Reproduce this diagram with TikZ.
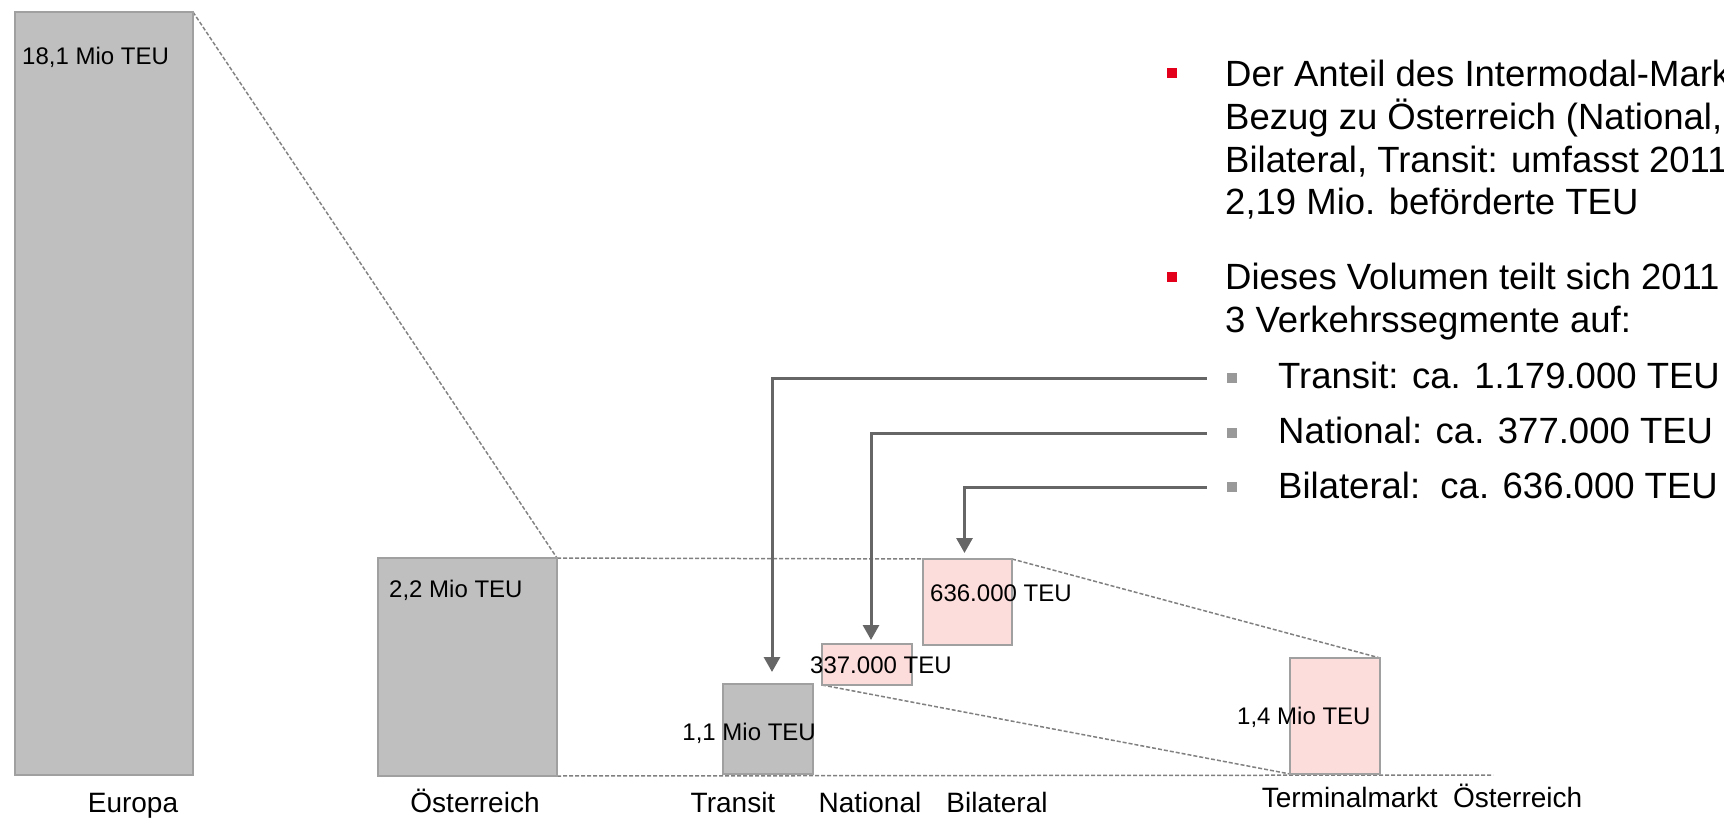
\documentclass[tikz,border=0pt]{standalone}
\usepackage{fontspec}
\setmainfont{Liberation Sans}
\usetikzlibrary{arrows.meta,backgrounds,positioning}
\definecolor{bargrey}{HTML}{BFBFBF}
\definecolor{barpink}{HTML}{FDDCDC}
\definecolor{barframe}{HTML}{A0A0A0}
\definecolor{guidegrey}{HTML}{808080}
\definecolor{pointergrey}{HTML}{666666}
\definecolor{bulletred}{HTML}{E2001A}
\definecolor{bulletgrey}{HTML}{999999}

\begin{document}
\begin{tikzpicture}[x=1pt,y=-1pt,
    bar/.style={draw=barframe,line width=2pt,outer sep=0pt,inner sep=0pt,anchor=north west},
    greybar/.style={bar,fill=bargrey},
    pinkbar/.style={bar,fill=barpink},
    barvalue/.style={font=\fontsize{24}{28}\selectfont,inner sep=0pt,anchor=base west},
    category/.style={font=\fontsize{28}{32}\selectfont,inner sep=0pt,anchor=base},
    bodytext/.style={font=\fontsize{36.5}{42}\selectfont,inner sep=0pt,anchor=base west},
    mainbullet/.style={fill=bulletred,minimum size=10pt,inner sep=0pt},
    subbullet/.style={fill=bulletgrey,minimum size=10pt,inner sep=0pt},
    guide/.style={draw=guidegrey,line width=1.5pt,dash pattern=on 4pt off 2pt},
    pointer/.style={-{Triangle[length=15pt,width=16pt]},line width=3pt,draw=pointergrey}
  ]
    \useasboundingbox (0,0) rectangle (1724,818);
    \clip (0,0) rectangle (1724,818);

    % bars
    \node[greybar,minimum width=178pt,minimum height=763pt] (europa) at (15,12) {};
    \node[greybar,minimum width=179pt,minimum height=218pt] (oesterreich) at (378,558) {};
    \node[greybar,minimum width=90pt,minimum height=90pt] (transit) at (723,684) {};
    \node[pinkbar,minimum width=90pt,minimum height=41pt] (national) at (822,644) {};
    \node[pinkbar,minimum width=89pt,minimum height=86pt] (bilateral) at (923,559) {};
    \node[pinkbar,minimum width=90pt,minimum height=116pt] (terminal) at (1290,658) {};

    % values
    \node[barvalue] (europaval) at (22,65) {18,1 Mio TEU};
    \node[barvalue] (oesterreichval) at (389,597) {2,2 Mio TEU};
    \node[barvalue,anchor=base east] (transitval) at (816,740) {1,1 Mio TEU};
    \node[barvalue] (nationalval) at (810,673) {337.000 TEU};
    \node[barvalue] (bilateralval) at (930,601) {636.000 TEU};
    \node[barvalue] (terminalval) at (1237,724) {1,4 Mio TEU};

    % categories
    \node[category] (europalbl) at (133,812) {Europa};
    \node[category] (oesterreichlbl) at (475,812) {Österreich};
    \node[category] (transitlbl) at (733,812) {Transit};
    \node[category] (nationallbl) at (870,812) {National};
    \node[category] (bilaterallbl) at (997,812) {Bilateral};
    \node[category] (terminallbl) at (1422,807) {Terminalmarkt\ \ Österreich};

    % text on the right
    \node[mainbullet] (bulletone) at (1172,73) {};
    \node[bodytext] (lineone) at (1225,87) {Der Anteil des Intermodal-Markt};
    \node[bodytext] (linetwo) at (1225,130) {Bezug zu Österreich (National,};
    \node[bodytext] (linethree) at (1225,173) {Bilateral, Transit: umfasst 2011};
    \node[bodytext] (linefour) at (1225,215) {2,19 Mio. beförderte TEU};
    \node[mainbullet] (bullettwo) at (1172,277) {};
    \node[bodytext] (linefive) at (1225,290) {Dieses Volumen teilt sich 2011};
    \node[bodytext] (linesix) at (1225,332) {3 Verkehrssegmente auf:};

    \node[subbullet] (tbul) at (1232,378) {};
    \node[bodytext] (ttxt) at (1278,388) {Transit: ca. 1.179.000 TEU};
    \node[subbullet] (nbul) at (1232,433) {};
    \node[bodytext] (ntxt) at (1278,443) {National: ca. 377.000 TEU};
    \node[subbullet] (bbul) at (1232,487) {};
    \node[bodytext] (btxt) at (1278,498) {Bilateral:\ \ ca. 636.000 TEU};

    \draw[pointer] ([xshift=-20pt]tbul.west) -| ([xshift=4pt,yshift=12pt]transit.north);
    \draw[pointer] ([xshift=-20pt]nbul.west) -| ([xshift=4pt,yshift=4pt]national.north);
    \draw[pointer] ([xshift=-20pt]bbul.west) -| ([xshift=-3pt,yshift=6pt]bilateral.north);

    % dashed guides
    \begin{scope}[on background layer]
      \coordinate (baseend) at (1493,775);
      \draw[guide] (europa.north east) -- (oesterreich.north east);
      \draw[guide] (oesterreich.north east) -- (bilateral.north west);
      \draw[guide] (bilateral.north east) -- (terminal.north east);
      \draw[guide] (national.south west) -- (terminal.south west);
      \draw[guide] (oesterreich.south east) -- (baseend);
    \end{scope}
  \end{tikzpicture}
\end{document}
